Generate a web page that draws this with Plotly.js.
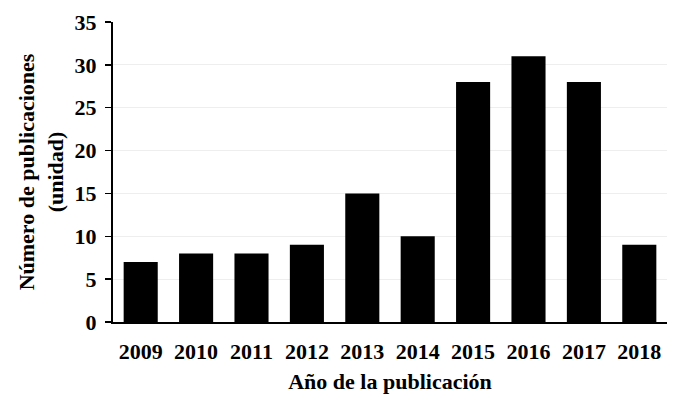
<!DOCTYPE html>
<html>
<head>
<meta charset="utf-8">
<script src="https://cdn.plot.ly/plotly-3.0.1.min.js"></script>
<style>
  html, body { margin: 0; padding: 0; background: white; }
  #chart { width: 687px; height: 406px; }
</style>
</head>
<body>
<div id="chart"></div>
<script>
// años y número de publicaciones por año
var years = ['2009', '2010', '2011', '2012', '2013', '2014', '2015', '2016', '2017', '2018'];
var publications = [7, 8, 8, 9, 15, 10, 28, 31, 28, 9];
var yTicks = [0, 5, 10, 15, 20, 25, 30, 35];

var serif = 'Liberation Serif, Times New Roman, serif';

var data = [
  {
    x: years,
    y: publications,
    type: 'bar',
    hoverinfo: 'x+y',
    showlegend: false,
    marker: {
      color: '#000000',
      line: { color: '#000000', width: 0 }
    }
  }
];

var layout = {
  width: 687,
  height: 406,
  paper_bgcolor: 'white',
  plot_bgcolor: 'white',
  bargap: 0.385,
  font: {
    family: serif,
    color: '#000000',
    size: 22
  },
  margin: { t: 22, r: 20, b: 84, l: 113, pad: 0 },
  xaxis: {
    type: 'category',
    showline: true,
    linecolor: '#000000',
    linewidth: 2,
    ticks: '',
    ticklabelstandoff: 9,
    showgrid: false,
    tickfont: { family: serif, size: 22, weight: 'bold' },
    title: {
      text: '<b>Año de la publicación</b>',
      font: { family: serif, size: 22 },
      standoff: 10
    }
  },
  yaxis: {
    range: [0, 35],
    tickvals: yTicks,
    showline: true,
    linecolor: '#000000',
    linewidth: 2,
    ticks: 'outside',
    ticklen: 6,
    tickwidth: 1.5,
    tickcolor: '#000000',
    ticklabelstandoff: 4,
    showgrid: true,
    gridcolor: '#eeeeee',
    gridwidth: 1,
    zeroline: false,
    tickfont: { family: serif, size: 22, weight: 'bold' },
    title: {
      text: '<b>Número de publicaciones<br>(unidad)</b>',
      font: { family: serif, size: 22 },
      standoff: 5
    }
  }
};

Plotly.newPlot('chart', data, layout, { displayModeBar: false, staticPlot: true });
</script>
</body>
</html>
